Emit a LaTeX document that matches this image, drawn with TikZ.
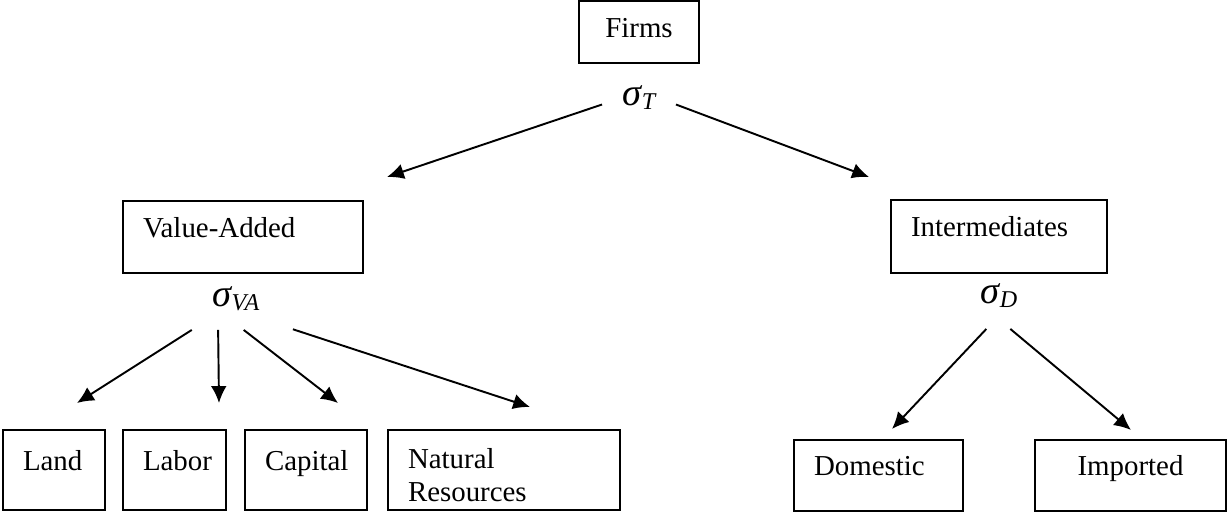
\documentclass[tikz,border=0pt]{standalone}
\usepackage{fontspec}
\setmainfont{Liberation Serif}
\usetikzlibrary{arrows.meta}
\newcommand\elast[1]{{\fontsize{16}{16}\selectfont\itshape σ}\raisebox{-0.3ex}{\fontsize{10}{10}\selectfont\itshape #1}}

\begin{document}
\begin{tikzpicture}[>={Latex[length=7pt,width=6.5pt]},line width=0.8pt,
  font=\fontsize{12}{13.8}\selectfont,
  box/.style 2 args={draw,align=left,text width={(#1-40)*\h*1cm},minimum height={#2*\h*1cm},inner xsep={20*\h*1cm},inner ysep=0pt,text depth=8pt},
  elas/.style 2 args={inner sep=0pt,minimum width={#1*\h*1cm},minimum height={#2*\h*1cm}}]
\def\h{0.0146}
\def\punkt#1#2{({(#1)*\h},{-(#2)*\h})}
\useasboundingbox \punkt{0}{0} rectangle \punkt{1227}{512};

\node[box={120}{62},align=center,text depth=3pt] (firms) at \punkt{639}{32} {Firms};
\node[elas={72}{30}] (sigT) at \punkt{639}{98} {\elast{T}};

\node[box={240}{72}] (va) at \punkt{243}{237} {Value-Added};
\node[box={216}{73}] (inter) at \punkt{999}{236.5} {Intermediates};
\node[elas={112}{60}] (sigVA) at \punkt{236}{299} {\elast{VA}};
\node[elas={40}{64}] (sigD) at \punkt{999}{296} {\elast{D}};

\node[box={102}{80}] (land) at \punkt{54}{470} {Land};
\node[box={103}{80}] (labor) at \punkt{174.5}{470} {Labor};
\node[box={122}{80}] (capital) at \punkt{306}{470} {Capital};
\node[box={232}{80},text depth=9.5pt] (natural) at \punkt{504}{470} {Natural\\Resources};
\node[box={169}{71}] (domestic) at \punkt{878.5}{475.5} {Domestic};
\node[box={191}{71},align=center] (imported) at \punkt{1130.5}{475.5} {Imported};

\path \punkt{387}{177} coordinate (vaIn);
\path \punkt{869}{177} coordinate (interIn);
\path \punkt{77}{403} coordinate (landIn);
\path \punkt{219}{403} coordinate (laborIn);
\path \punkt{338}{403} coordinate (capitalIn);
\path \punkt{530}{407} coordinate (naturalIn);
\path \punkt{892}{429} coordinate (domesticIn);
\path \punkt{1131}{430} coordinate (importedIn);

\draw[->] (sigT.190) -- (vaIn);
\draw[->] (sigT.-10) -- (interIn);
\foreach \a/\t in {-145/landIn,-120/laborIn,-76/capitalIn,-28/naturalIn}{
	\draw[->] (sigVA.\a) -- (\t);
}
\draw[->] (sigD.-111) -- (domesticIn);
\draw[->] (sigD.-71) -- (importedIn);

\end{tikzpicture}
\end{document}
